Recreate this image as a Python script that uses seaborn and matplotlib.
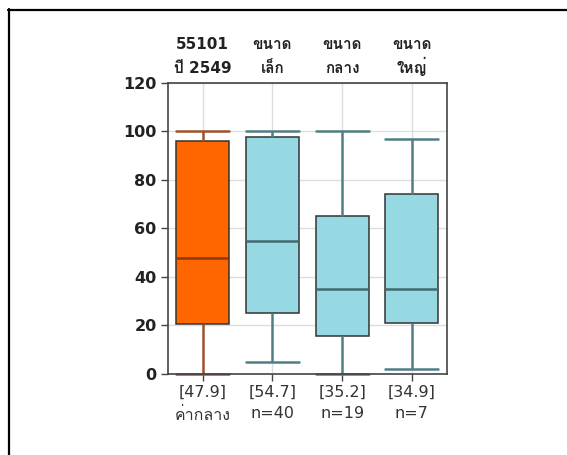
import pandas as pd
import matplotlib
matplotlib.use("Agg")
import matplotlib.pyplot as plt
import seaborn as sns
from matplotlib import font_manager
from matplotlib.ft2font import FT2Font
from matplotlib.lines import Line2D

# categories and five-number summaries
groups = ["55101 ปี 2549", "ขนาดเล็ก", "ขนาดกลาง", "ขนาดใหญ่"]
top_line1 = ["55101", "ขนาด", "ขนาด", "ขนาด"]
top_line2 = ["ปี 2549", "เล็ก", "กลาง", "ใหญ่"]
bottom_labels = ["[47.9]\nค่ากลาง", "[54.7]\nn=40", "[35.2]\nn=19", "[34.9]\nn=7"]
lows = [0, 5, 0, 2]
q1s = [20.5, 25, 15.5, 21]
medians = [47.9, 54.7, 35.2, 34.9]
q3s = [96, 97.5, 65, 74]
highs = [100, 100, 100, 97]


def find_thai_font():
    for f in font_manager.fontManager.ttflist:
        try:
            if 0x0E02 in FT2Font(f.fname).get_charmap():
                return f.name
        except Exception:
            pass
    return None


# five points per group give exactly these quartiles and whiskers
rows = []
for g, lo, a, m, b, hi in zip(groups, lows, q1s, medians, q3s, highs):
    for v in (lo, a, m, b, hi):
        rows.append({"group": g, "value": v})
df = pd.DataFrame(rows)

sns.set_style("whitegrid", {"xtick.bottom": True, "ytick.left": True,
                            "axes.edgecolor": "#444444", "grid.color": "#dddddd"})
thai = find_thai_font()
fams = ["DejaVu Sans"] + ([thai] if thai else [])
plt.rcParams["font.family"] = fams

fig = plt.figure(figsize=(5.67, 4.55), dpi=100)
ax = fig.add_axes([0.296, 0.178, 0.492, 0.64])

styles = [
    (groups[:1], "#FF6600", "#A0522D", "#8B3A0A"),
    (groups[1:], "#96D9E3", "#4F7F85", "#44696E"),
]
for subset, fill, wcol, mcol in styles:
    sns.boxplot(data=df[df["group"].isin(subset)], x="group", y="value",
                order=groups, color=fill, width=0.76, ax=ax,
                capwidths=0.76,
                boxprops=dict(facecolor=fill, edgecolor="#333333", linewidth=1.1),
                whiskerprops=dict(color=wcol, linewidth=1.8),
                capprops=dict(color=wcol, linewidth=1.8),
                medianprops=dict(color=mcol, linewidth=1.8))
for ln in ax.lines:
    ln.set_clip_on(False)

ax.set_xlim(-0.5, 3.5)
ax.set_ylim(0, 120)
ax.set_yticks(range(0, 121, 20))
ax.set_xlabel("")
ax.set_ylabel("")
ax.set_xticks(range(4), labels=bottom_labels, linespacing=1.5)
ax.tick_params(axis="y", length=5, width=1, color="#444444", labelsize=11.5,
               labelcolor="#222222", pad=3)
ax.tick_params(axis="x", length=5, width=1, color="#444444", labelsize=11.5,
               labelcolor="#333333", pad=3)
for lab in ax.get_yticklabels():
    lab.set_fontweight("bold")
for sp in ax.spines.values():
    sp.set_color("#444444")
    sp.set_linewidth(1.2)
ax.grid(True, color="#dddddd", linewidth=1)
ax.set_axisbelow(True)

# two-line group names above the axes, each line on a shared baseline
for i, (l1, l2) in enumerate(zip(top_line1, top_line2)):
    for txt, off in ((l1, 24.5), (l2, 7)):
        ax.annotate(txt, xy=(i, 1), xycoords=("data", "axes fraction"),
                    xytext=(0, off), textcoords="offset points",
                    ha="center", va="baseline", fontsize=11,
                    fontweight="bold", color="#222222")

# frame lines around the picture (top and left)
fig.add_artist(Line2D([8 / 567, 1.0], [1 - 9.5 / 455, 1 - 9.5 / 455],
                      color="black", linewidth=1.6))
fig.add_artist(Line2D([9 / 567, 9 / 567], [0, 1 - 9 / 455],
                      color="black", linewidth=1.6))

fig.savefig("out.png", dpi=100)
